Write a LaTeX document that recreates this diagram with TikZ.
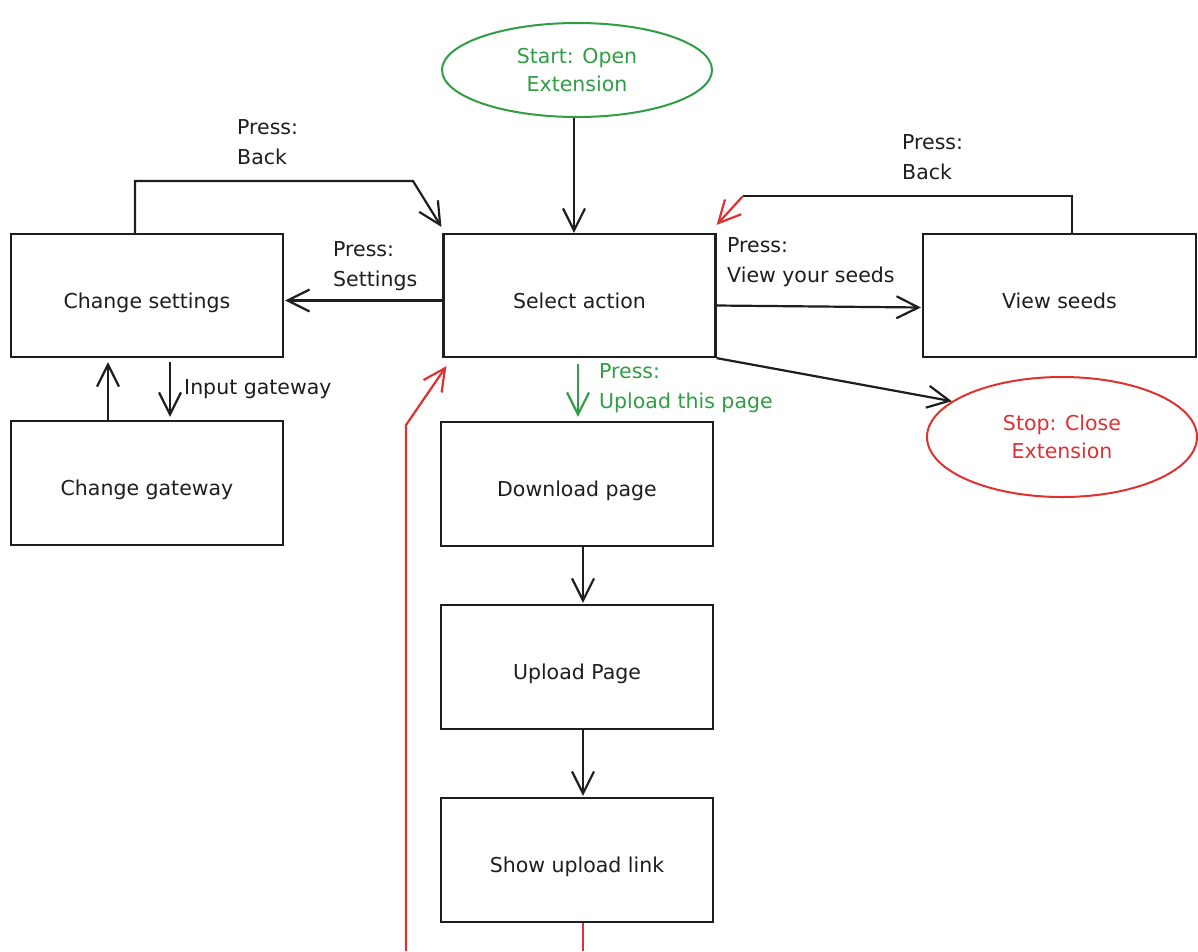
\documentclass[tikz,border=0pt]{standalone}
\usepackage{fontspec}
\setmainfont{DejaVu Sans}
\usetikzlibrary{shapes.geometric,arrows.meta}
\definecolor{ink}{HTML}{1E1E1E}
\definecolor{okgreen}{HTML}{2F9E44}
\definecolor{stopred}{HTML}{E03131}
\tikzset{
  box/.style={draw=ink,line width=2.2pt,rectangle,minimum width=272pt,minimum height=123pt,inner sep=0pt,text height=28pt,text depth=3pt,font=\fontsize{20.5}{26}\selectfont,text=ink},
  oval/.style={ellipse,line width=2pt,inner sep=0pt,font=\fontsize{20.5}{28}\selectfont,align=center},
  conn/.style={draw=ink,line width=2.2pt,-{Straight Barb[length=22pt,width=22pt,line width=2.2pt]}},
  plain/.style={draw=ink,line width=2.2pt},
  lbl/.style={anchor=north west,inner sep=0pt,align=left,font=\fontsize{20.5}{30}\selectfont,text=ink},
}
\begin{document}
\begin{tikzpicture}[x=1pt,y=-1pt]
\useasboundingbox[fill=white] (0,0) rectangle (1198,951);
% nodes
\node[oval,draw=okgreen,text=okgreen,minimum width=270pt,minimum height=94pt] (start) at (577,70) {Start: Open\\Extension};
\node[box] (select) at (579.5,295.5) {Select action};
\node[box] (settings) at (147,295.5) {Change settings};
\node[box,minimum width=273pt] (view) at (1059.5,295.5) {View seeds};
\node[box,minimum height=124pt] (gateway) at (147,483) {Change gateway};
\node[box,minimum height=124pt] (download) at (577,484) {Download page};
\node[box,minimum height=124pt] (upload) at (577,667) {Upload Page};
\node[box,minimum height=124pt] (show) at (577,860) {Show upload link};
\node[oval,draw=stopred,text=stopred,minimum width=270pt,minimum height=120pt] (stop) at (1062,437) {Stop: Close\\Extension};
% coordinates
\coordinate (s1) at (574,0);
\coordinate (b1) at (135,181);
\coordinate (b2) at (413,181);
\coordinate (v1) at (1072,196);
\coordinate (v2) at (743,196);
\coordinate (r0) at (406,951);
\coordinate (r1) at (406,425);
\coordinate (r2) at (583,951);
% connectors
\draw[conn] (start.south -| s1) -- (select.north -| s1);
\draw[conn,shorten >=1pt] ([yshift=-5pt]select.west) -- ([yshift=-5pt]settings.east);
\draw[conn,shorten >=1pt] ([yshift=-10pt]select.east) -- ([yshift=-12pt]view.west);
\draw[conn] (select.south east) -- (stop.162);
\draw[conn,draw=okgreen,shorten <=6pt,shorten >=4pt] ([xshift=-1.5pt]select.south) -- ([xshift=1pt]download.north);
\draw[conn] (settings.north -| b1) -- (b1) -- (b2) -- ([xshift=-1pt,yshift=6pt]select.north west);
\draw[conn,shorten >=4pt] ([xshift=-39pt]gateway.north) -- ([xshift=-39pt]settings.south);
\draw[conn,shorten <=4pt,shorten >=3pt] ([xshift=23pt]settings.south) -- ([xshift=23pt]gateway.north);
\draw[conn,shorten >=1pt] ([xshift=6pt]download.south) -- ([xshift=6pt]upload.north);
\draw[conn,shorten >=1pt] ([xshift=6pt]upload.south) -- ([xshift=6pt]show.north);
\draw[plain] (view.north -| v1) -- (v1) -- (v2);
\draw[conn,draw=stopred] (v2) -- ([yshift=8pt]select.north east);
\draw[conn,draw=stopred] (r0) -- (r1) -- ([xshift=4pt,yshift=-8pt]select.south west);
\draw[plain,draw=stopred] (show.south -| r2) -- (r2);
% labels
\node[lbl] (lback1) at (237,119) {Press:\\Back};
\node[lbl] (lset) at (333,241) {Press:\\Settings};
\node[lbl] (lview) at (727,237) {Press:\\View your seeds};
\node[lbl,text=okgreen] (lup) at (599,363) {Press:\\Upload this page};
\node[lbl] (lgate) at (184,379) {Input gateway};
\node[lbl] (lback2) at (902,134) {Press:\\Back};
\end{tikzpicture}
\end{document}
